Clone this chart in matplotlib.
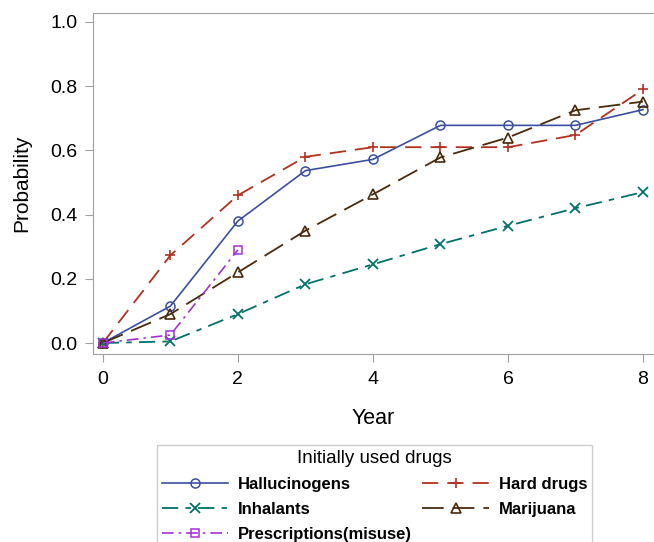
import matplotlib
matplotlib.use("Agg")
import matplotlib.pyplot as plt

plt.rcParams['font.family'] = ['Liberation Sans', 'DejaVu Sans']

years = [0, 1, 2, 3, 4, 5, 6, 7, 8]
hallucinogens = [0.0, 0.115, 0.38, 0.537, 0.572, 0.678, 0.678, 0.678, 0.727]
hard_drugs = [0.0, 0.273, 0.46, 0.58, 0.61, 0.61, 0.61, 0.648, 0.79]
inhalants = [0.0, 0.005, 0.09, 0.183, 0.245, 0.308, 0.365, 0.42, 0.47]
marijuana = [0.0, 0.09, 0.22, 0.35, 0.463, 0.578, 0.64, 0.725, 0.752]
presc_years = [0, 1, 2]
prescriptions = [0.0, 0.025, 0.29]

fig = plt.figure(figsize=(6.54, 5.42), dpi=100)
ax = fig.add_axes([0.142, 0.347, 0.858, 0.629])

ax.plot(years, hallucinogens, color='#3a4fa0', lw=1.2, ls='-',
        marker='o', ms=6.5, mfc='none', mew=1.1, label='Hallucinogens')
ax.plot(years, hard_drugs, color='#b2301f', lw=1.3, ls=(0, (9, 5)),
        marker='+', ms=7, mew=1.2, label='Hard drugs')
ax.plot(years, inhalants, color='#00706a', lw=1.3, ls=(0, (9, 4, 3, 4)),
        marker='x', ms=6.5, mew=1.3, label='Inhalants')
ax.plot(years, marijuana, color='#4a2a0c', lw=1.3, ls=(0, (12, 5)),
        marker='^', ms=6.5, mfc='none', mew=1.2, label='Marijuana')
ax.plot(presc_years, prescriptions, color='#a530d8', lw=1.2, ls=(0, (7, 3, 1.5, 3)),
        marker='s', ms=6, mfc='none', mew=1.1, label='Prescriptions(misuse)')

ax.set_xlim(-0.148, 8.163)
ax.set_ylim(-0.034, 1.028)
ax.set_xticks([0, 2, 4, 6, 8])
ax.set_yticks([0.0, 0.2, 0.4, 0.6, 0.8, 1.0])
ax.set_yticklabels(['0.0', '0.2', '0.4', '0.6', '0.8', '1.0'])
for s in ax.spines.values():
    s.set_color('#a0a0a0')
ax.tick_params(color='#a0a0a0', length=6, labelsize=14)
ax.tick_params(axis='x', pad=6)
ax.tick_params(axis='y', pad=5)
ax.set_xlabel('Year', fontsize=15.5, labelpad=15)
ax.set_ylabel('Probability', fontsize=15, labelpad=14)

handles, labels = ax.get_legend_handles_labels()
order = [0, 2, 4, 1, 3]
leg = fig.legend([handles[i] for i in order], [labels[i] for i in order],
                 loc='upper center', bbox_to_anchor=(0.5727, 0.179), ncol=2,
                 title='Initially used drugs', fancybox=False, edgecolor='#c0c0c0',
                 handlelength=4.0, columnspacing=0.6, borderpad=0.3,
                 labelspacing=0.6, handletextpad=0.6, borderaxespad=0,
                 prop={'size': 12, 'weight': 'bold'}, title_fontsize=13.5)

fig.savefig('out.png', dpi=100)
